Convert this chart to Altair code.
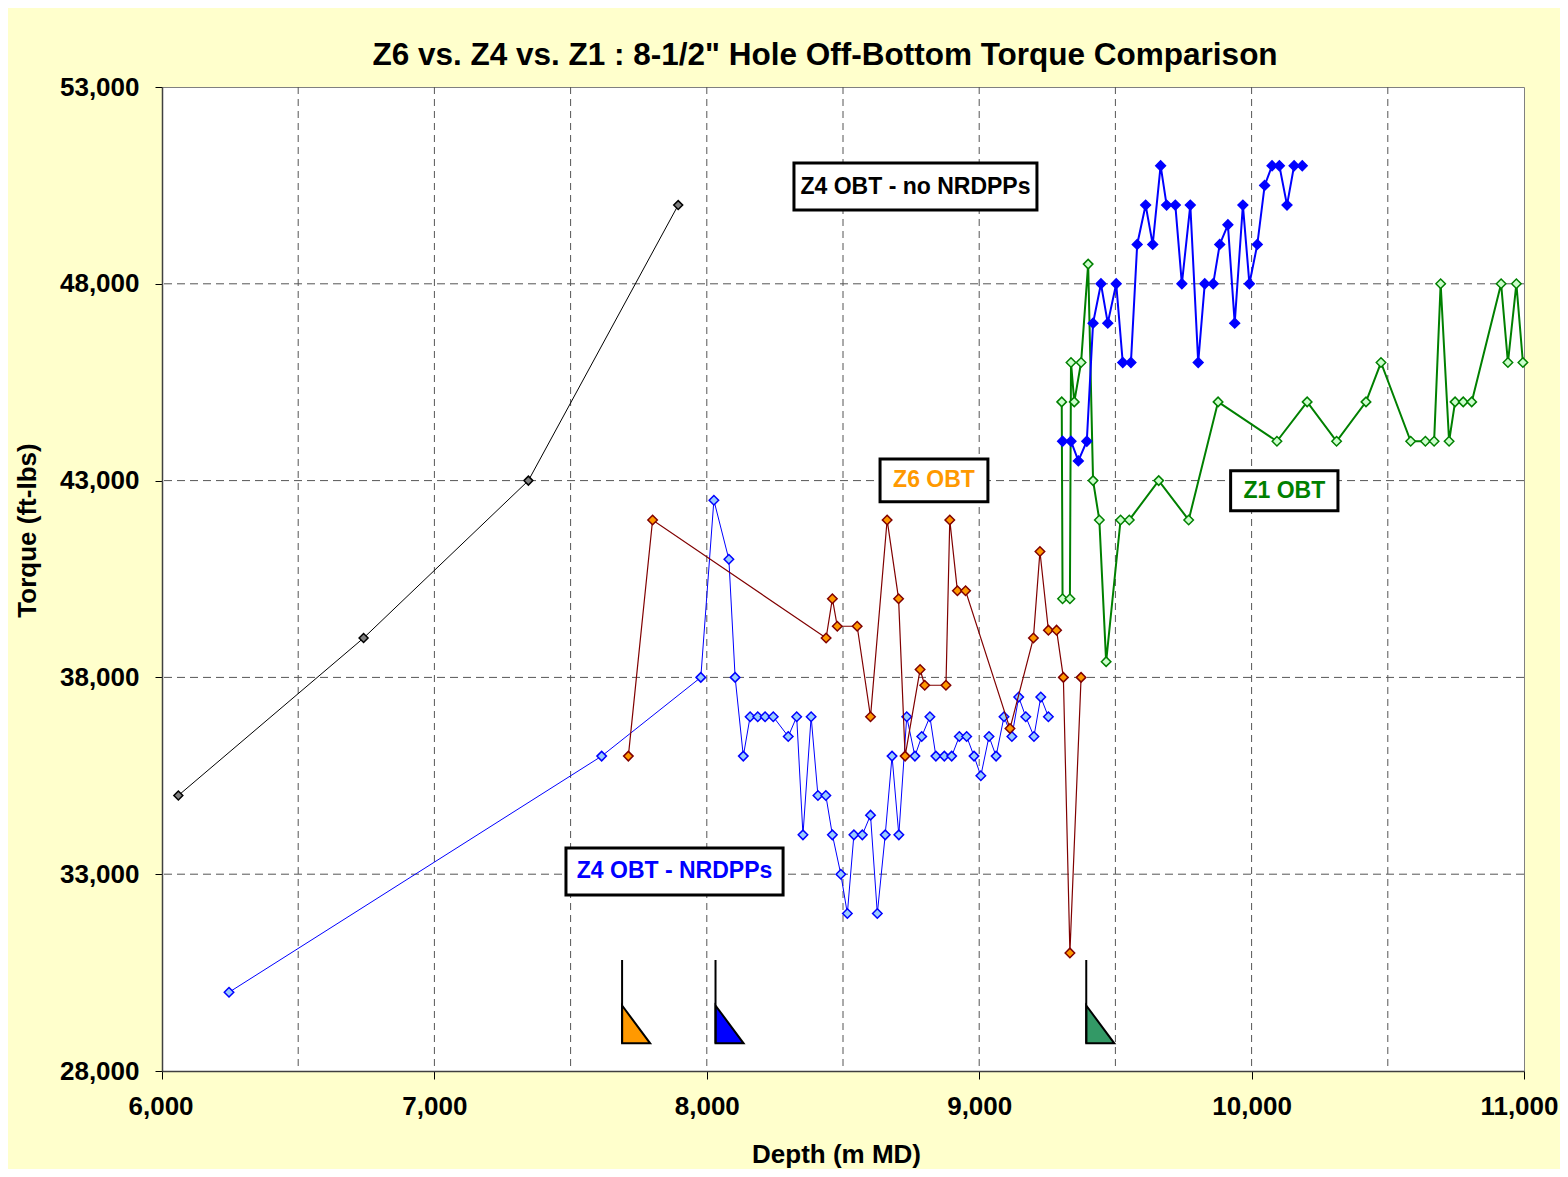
import altair as alt
import pandas as pd

FONT = "Liberation Sans"

# ---------------- data ----------------
black_x = [6060, 6740, 7345, 7895]
black_y = [35000, 39000, 43000, 50000]

nrdpp_x = [6246, 7614, 7978, 8026, 8081, 8104, 8134, 8159, 8187, 8214, 8244, 8299,
           8330, 8353, 8383, 8408, 8437, 8461, 8492, 8516, 8540, 8571, 8601, 8626,
           8655, 8680, 8705, 8734, 8764, 8789, 8819, 8841, 8872, 8899, 8927, 8954,
           8981, 9006, 9036, 9062, 9091, 9120, 9145, 9171, 9201, 9226, 9254]
nrdpp_y = [30000, 36000, 38000, 42500, 41000, 38000, 36000, 37000, 37000, 37000, 37000, 36500,
           37000, 34000, 37000, 35000, 35000, 34000, 33000, 32000, 34000, 34000, 34500, 32000,
           34000, 36000, 34000, 37000, 36000, 36500, 37000, 36000, 36000, 36000, 36500, 36500,
           36000, 35500, 36500, 36000, 37000, 36500, 37500, 37000, 36500, 37500, 37000]

z6_x = [7712, 7801, 8438, 8461, 8479, 8552, 8601, 8662, 8704, 8728, 8783, 8800,
        8878, 8892, 8920, 8950, 9113, 9199, 9223, 9254, 9284, 9309, 9333, 9374]
z6_y = [36000, 42000, 39000, 40000, 39300, 39300, 37000, 42000, 40000, 36000, 38200, 37800,
        37800, 42000, 40200, 40200, 36700, 39000, 41200, 39200, 39200, 38000, 31000, 38000]

z1_x = [9303, 9306, 9333, 9337, 9349, 9374, 9400, 9418, 9441, 9466, 9519, 9551,
        9659, 9769, 9877, 10093, 10204, 10312, 10420, 10475, 10584, 10638, 10670, 10694,
        10725, 10747, 10777, 10808, 10916, 10941, 10972, 10996]
z1_y = [45000, 40000, 40000, 46000, 45000, 46000, 48500, 43000, 42000, 38400, 42000, 42000,
        43000, 42000, 45000, 44000, 45000, 44000, 45000, 46000, 44000, 44000, 44000, 48000,
        44000, 45000, 45000, 45000, 48000, 46000, 48000, 46000]

nonrdpp_x = [9306, 9337, 9364, 9395, 9418, 9447, 9472, 9503, 9527, 9557, 9580, 9611,
             9637, 9666, 9688, 9720, 9744, 9775, 9804, 9828, 9859, 9883, 9913, 9938,
             9968, 9992, 10021, 10048, 10075, 10102, 10130, 10156, 10186]
nonrdpp_y = [44000, 44000, 43500, 44000, 47000, 48000, 47000, 48000, 46000, 46000, 49000, 50000,
             49000, 51000, 50000, 50000, 48000, 50000, 46000, 48000, 48000, 49000, 49500, 47000,
             50000, 48000, 49000, 50500, 51000, 51000, 50000, 51000, 51000]

flag_x = [7689, 8032, 9393]
flag_fill = ["#FF9900", "#0000FF", "#339966"]

x_ticks = [6000, 7000, 8000, 9000, 10000, 11000]
y_ticks = [28000, 33000, 38000, 43000, 48000, 53000]
x_grid = [6500, 7000, 7500, 8000, 8500, 9000, 9500, 10000, 10500]
y_grid = [33000, 38000, 43000, 48000]

labels_text = ["Z4 OBT - no NRDPPs", "Z6 OBT", "Z1 OBT", "Z4 OBT - NRDPPs"]
labels_color = ["#000000", "#FF9900", "#008000", "#0000FF"]
labels_x1 = [8320, 8636, 9923, 7483]
labels_x2 = [9212, 9032, 10317, 8280]
labels_y1 = [49875, 42464, 42235, 32472]
labels_y2 = [51069, 43549, 43252, 33666]

TITLE = 'Z6 vs. Z4 vs. Z1 : 8-1/2" Hole Off-Bottom Torque Comparison'

# ---------------- scales / axes ----------------
xscale = alt.Scale(domain=[6000, 11000], nice=False, zero=False)
yscale = alt.Scale(domain=[28000, 53000], nice=False, zero=False)

xaxis = alt.Axis(values=x_ticks, format=",d", grid=False, labelFlush=True, labelFlushOffset=34,
                 labelOverlap=False,
                 labelFont=FONT, labelFontSize=26, labelFontWeight="bold", labelColor="black",
                 labelPadding=14, tickSize=8, tickColor="#000000", tickWidth=1,
                 domainColor="#404040", domainWidth=1.5,
                 title="Depth (m MD)", titleFont=FONT, titleFontSize=26, titleFontWeight="bold",
                 titleColor="black", titleX=674, titleY=83, titleBaseline="middle", titleAlign="center")
yaxis = alt.Axis(values=y_ticks, format=",d", grid=False, labelFlush=False, labelOverlap=False,
                 labelFont=FONT, labelFontSize=26, labelFontWeight="bold", labelColor="black",
                 labelPadding=16, tickSize=7, tickColor="#000000", tickWidth=1,
                 domainColor="#404040", domainWidth=1.5,
                 title="Torque (ft-lbs)", titleFont=FONT, titleFontSize=26, titleFontWeight="bold",
                 titleColor="black", titleAngle=270, titleX=-135, titleY=443,
                 titleBaseline="middle", titleAlign="center")


def X(field="x"):
    return alt.X(f"{field}:Q", scale=xscale, axis=xaxis)


def Y(field="y"):
    return alt.Y(f"{field}:Q", scale=yscale, axis=yaxis)


# gridlines
vgrid = alt.Chart(pd.DataFrame({"x": x_grid})).mark_rule(
    color="#555555", strokeWidth=1, strokeDash=[7, 5]).encode(x=X())
hgrid = alt.Chart(pd.DataFrame({"y": y_grid})).mark_rule(
    color="#555555", strokeWidth=1, strokeDash=[8, 5]).encode(y=Y())


def series(xs, ys, line_color, line_w, fill, stroke, size=80):
    df = pd.DataFrame({"x": xs, "y": ys, "i": list(range(len(xs)))})
    base = alt.Chart(df).encode(x=X(), y=Y(), order=alt.Order("i:Q"))
    line = base.mark_line(color=line_color, strokeWidth=line_w)
    pts = base.mark_point(shape="diamond", filled=True, size=size, fill=fill,
                          stroke=stroke, strokeWidth=1.5, opacity=1)
    return [line, pts]


layers = [vgrid, hgrid]
layers += series(black_x, black_y, "#000000", 1, "#808080", "#000000")
layers += series(nrdpp_x, nrdpp_y, "#0000FF", 1, "#99CCFF", "#0000FF", size=90)
layers += series(z6_x, z6_y, "#800000", 1.2, "#FF9900", "#800000", size=90)
layers += series(z1_x, z1_y, "#008000", 2, "#CCFFCC", "#008000", size=90)
layers += series(nonrdpp_x, nonrdpp_y, "#0000FF", 2, "#0000FF", "#0000FF", size=95)

# flags at the bottom (casing markers)
FLAG_W = 103
FLAG_TOP = 30820
TRI_TOP = 29664
TRI_BOT = 28704
tri_rows = []
for fx, fc in zip(flag_x, flag_fill):
    tri_rows.append({"f": fc, "x": fx, "y": TRI_TOP, "y2": TRI_BOT})
    tri_rows.append({"f": fc, "x": fx + FLAG_W, "y": TRI_BOT, "y2": TRI_BOT})
tri = alt.Chart(pd.DataFrame(tri_rows)).mark_area(
    stroke="#000000", strokeWidth=2, opacity=1, strokeJoin="miter").encode(
    x=X(), y=Y(), y2="y2:Q", fill=alt.Fill("f:N", scale=None), detail="f:N")
flag_pole = alt.Chart(pd.DataFrame({"x": flag_x, "y": [FLAG_TOP] * 3, "y2": [TRI_BOT] * 3})).mark_rule(
    color="#000000", strokeWidth=2).encode(x=X(), y=Y(), y2="y2:Q")
layers += [tri, flag_pole]

# label boxes
lab = pd.DataFrame({"t": labels_text, "c": labels_color, "x1": labels_x1, "x2": labels_x2,
                    "y1": labels_y1, "y2": labels_y2})
lab["xc"] = (lab["x1"] + lab["x2"]) / 2
lab["yc"] = (lab["y1"] + lab["y2"]) / 2
boxes = alt.Chart(lab).mark_rect(fill="white", stroke="#000000", strokeWidth=3).encode(
    x=X("x1"), x2="x2:Q", y=Y("y1"), y2="y2:Q")
texts = alt.Chart(lab).mark_text(font=FONT, fontSize=23, fontWeight="bold", baseline="middle",
                                 align="center").encode(
    x=X("xc"), y=Y("yc"), text="t:N", color=alt.Color("c:N", scale=None))
layers += [boxes, texts]

title = alt.Chart(pd.DataFrame({"t": [TITLE]})).mark_text(
    font=FONT, fontSize=31.5, fontWeight="bold", color="black", align="center",
    baseline="alphabetic").encode(x=alt.value(663), y=alt.value(-22), text="t:N")
layers.append(title)

chart = alt.layer(*layers).properties(
    width=1362, height=984,
    background="#FFFFCC",
    padding={"left": 154, "top": 79, "right": 36, "bottom": 98},
    autosize=alt.AutoSizeParams(type="none"),
).configure_view(fill="white", stroke="#808080", strokeWidth=1)

chart.save("out.html", embed_options={"renderer": "svg", "actions": False})
